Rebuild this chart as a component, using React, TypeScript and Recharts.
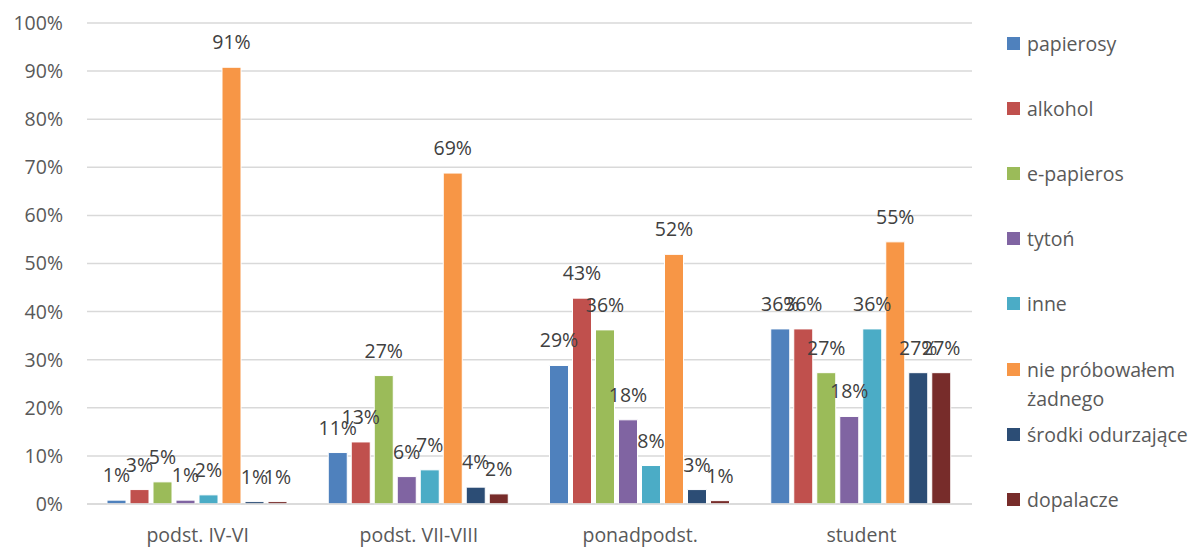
import React from "react";
import {
  BarChart,
  Bar,
  XAxis,
  YAxis,
  CartesianGrid,
  LabelList,
} from "recharts";

const categories = ["podst. IV-VI", "podst. VII-VIII", "ponadpodst.", "student"];

const papierosy = [0.8, 10.7, 28.8, 36.4];
const alkohol = [3.0, 12.9, 42.8, 36.4];
const ePapieros = [4.6, 26.7, 36.2, 27.3];
const tyton = [0.8, 5.7, 17.5, 18.2];
const inne = [1.9, 7.1, 8.0, 36.4];
const nieProbowalem = [90.8, 68.8, 51.9, 54.5];
const srodki = [0.5, 3.5, 3.0, 27.3];
const dopalacze = [0.5, 2.1, 0.7, 27.3];

const yTicks = [0, 10, 20, 30, 40, 50, 60, 70, 80, 90, 100];

const series = [
  { key: "papierosy", values: papierosy, color: "#4F81BD" },
  { key: "alkohol", values: alkohol, color: "#C0504D" },
  { key: "e-papieros", values: ePapieros, color: "#9BBB59" },
  { key: "tytoń", values: tyton, color: "#8064A2" },
  { key: "inne", values: inne, color: "#4BACC6" },
  { key: "nie próbowałem żadnego", values: nieProbowalem, color: "#F79646" },
  { key: "środki odurzające", values: srodki, color: "#2C4D75" },
  { key: "dopalacze", values: dopalacze, color: "#772C2A" },
];

const data = categories.map((name, i) => {
  const row: Record<string, string | number> = { name };
  series.forEach((s) => {
    row[s.key] = s.values[i];
  });
  return row;
});

const FONT = "'Open Sans', Lato, sans-serif";
const FS = 19.5;

// legend drawn as html next to the plot (recharts Legend would eat plot space)
const ChartLegend = () => (
  <div style={{ position: "absolute", left: 1007, top: 0, width: 193, height: 547, fontFamily: FONT }}>
    {series.map((s, i) => (
      <div
        key={s.key}
        style={{
          position: "absolute",
          left: 0,
          top: 29 + i * 65.1,
          display: "flex",
          alignItems: "flex-start",
          fontSize: FS,
          lineHeight: "29px",
          color: "#595959",
        }}
      >
        <span
          style={{
            display: "inline-block",
            width: 13,
            height: 13,
            background: s.color,
            marginTop: 8,
            marginRight: 7,
            flexShrink: 0,
          }}
        />
        <span style={{ width: 178, whiteSpace: "normal" }}>{s.key}</span>
      </div>
    ))}
  </div>
);

export default function App() {
  return (
    <div style={{ position: "absolute", left: 0, top: 0, width: 1200, height: 547, background: "#fff", overflow: "hidden" }}>
      <BarChart
        width={1200}
        height={547}
        data={data}
        margin={{ top: 23, right: 228, left: 0, bottom: 13 }}
        barCategoryGap={20}
        barGap={4}
      >
        <CartesianGrid vertical={false} stroke="#D9D9D9" strokeWidth={1.5} />
        <XAxis
          dataKey="name"
          axisLine={{ stroke: "#D9D9D9", strokeWidth: 1.5 }}
          tickLine={false}
          tickSize={0}
          tickMargin={24}
          height={30}
          tick={{ fill: "#595959", fontSize: FS, fontFamily: FONT }}
        />
        <YAxis
          domain={[0, 100]}
          ticks={yTicks}
          interval={0}
          width={87}
          axisLine={false}
          tickLine={false}
          tickSize={0}
          tickMargin={24}
          tickFormatter={(v: number) => `${v}%`}
          tick={{ fill: "#595959", fontSize: FS, fontFamily: FONT }}
        />
        {series.map((s) => (
          <Bar
            key={s.key}
            dataKey={s.key}
            fill={s.color}
            stroke="#ffffff"
            strokeWidth={1}
            isAnimationActive={false}
          >
            <LabelList
              dataKey={s.key}
              position="top"
              offset={18}
              formatter={(v: number) => `${Math.round(v)}%`}
              style={{ fill: "#404040", fontSize: FS, fontFamily: FONT }}
            />
          </Bar>
        ))}
      </BarChart>
      <ChartLegend />
    </div>
  );
}
